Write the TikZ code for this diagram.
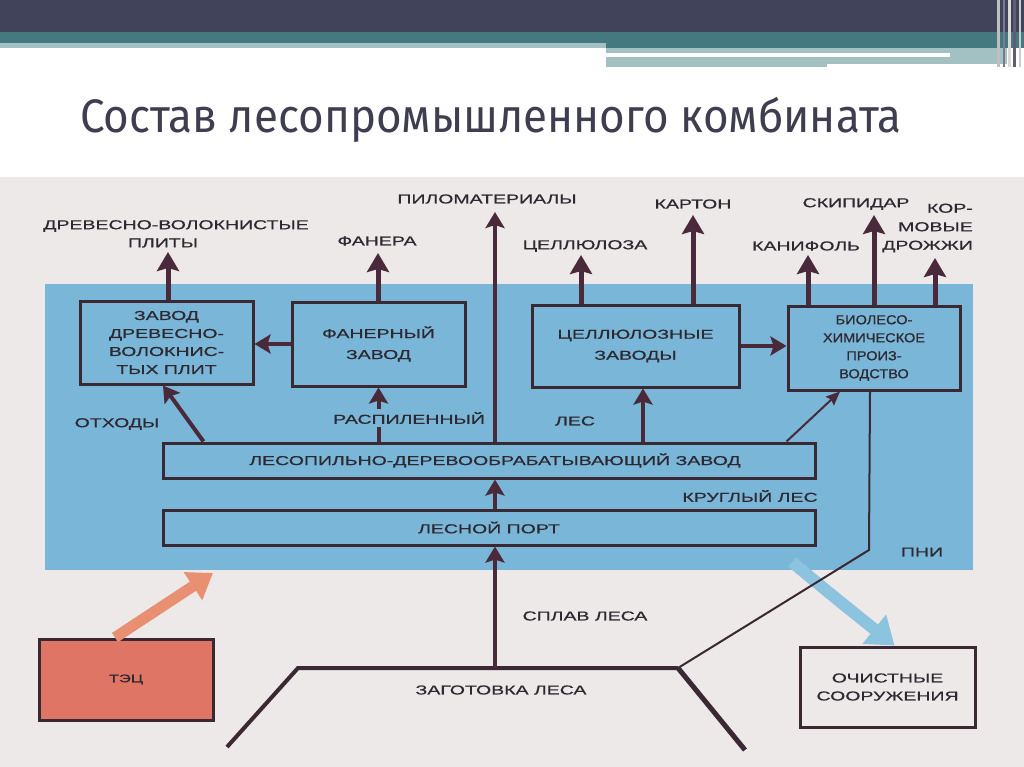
\documentclass[tikz,border=0pt]{standalone}
\usepackage{fontspec}
\setmainfont{Liberation Sans}
\newfontfamily\lblfont[FakeStretch=1.5,FakeBold=0.6]{Liberation Sans}
\newfontfamily\biofont[FakeStretch=1.12,FakeBold=0.6]{Liberation Sans}
\newfontfamily\titlefont{Fira Sans}
\usetikzlibrary{arrows.meta}
\definecolor{hdrdark}{HTML}{41435A}
\definecolor{hdrteal}{HTML}{44797F}
\definecolor{hdrlight}{HTML}{A3C0C2}
\definecolor{paper}{HTML}{ECE9E8}
\definecolor{zone}{HTML}{79B6D8}
\definecolor{ink}{HTML}{3A2833}
\definecolor{arrowc}{HTML}{4A2A3A}
\definecolor{tecfill}{HTML}{DE7565}
\definecolor{tecarrow}{HTML}{EA9072}
\definecolor{flowblue}{HTML}{8CC3DE}
\definecolor{titlec}{HTML}{3E3E50}
\definecolor{txt}{HTML}{2E2830}
\tikzset{
  lbl/.style={font=\lblfont\fontsize{13}{18}\selectfont, text=txt, inner sep=0pt},
  plant/.style={draw=ink, line width=3pt, fill=zone, text=txt, align=center, inner sep=0pt,
    font=\lblfont\fontsize{13}{18}\selectfont},
  bigarrow/.style={draw=arrowc, line width=5pt, -{Stealth[length=19pt,width=22pt,inset=3pt]}},
  midarrow/.style={draw=arrowc, line width=4pt, -{Stealth[length=16pt,width=19pt,inset=3pt]}},
  thinarrow/.style={draw=arrowc, line width=2pt, -{Stealth[length=14pt,width=12pt,inset=2pt]}},
  thinline/.style={draw=ink, line width=2pt},
  forestline/.style={draw=ink, line width=4pt, line join=miter},
}
\begin{document}
\begin{tikzpicture}[x=1pt,y=-1pt]
\useasboundingbox (0,0) rectangle (1024,767);
% slide background
\fill[white] (0,0) rectangle (1024,767);
\fill[hdrdark] (0,0) rectangle (1024,32);
\fill[hdrteal] (0,32) rectangle (1024,43);
\fill[hdrteal] (606,43) rectangle (1024,48.3);
\fill[hdrlight] (0,42.7) rectangle (606,48.3);
\fill[hdrlight] (606,48.3) rectangle (1007,57.3);
\fill[white] (606,53.3) rectangle (950,57.3);
\fill[hdrlight] (606,57.3) rectangle (827,67.3);
\fill[hdrlight] (827,57.3) rectangle (1007,64);
\fill[gray!50] (997,0) rectangle (1000,67);
\fill[hdrdark!70] (1003,0) rectangle (1005,67);
\fill[gray!30] (1008,0) rectangle (1011,67);
\fill[hdrdark!85] (1013,0) rectangle (1016,67);
\fill[gray!40] (1019,0) rectangle (1021,67);
\node[anchor=base west, font=\titlefont\fontsize{47}{50}\selectfont, text=titlec, inner sep=0pt]
  (title) at (80,133) {\scalebox{0.935}[1]{Состав лесопромышленного комбината}};
% scanned page
\fill[paper] (0,177) rectangle (1024,767);
\fill[zone] (45,284) rectangle (973,570);

% coordinates
\coordinate (mainx) at (495,0);
\coordinate (tPlity) at (168,252);
\coordinate (tFanera) at (378,253);
\coordinate (tPilo) at (495,212);
\coordinate (tCell) at (581,255);
\coordinate (tKarton) at (693,215);
\coordinate (tKanif) at (808,255);
\coordinate (tSkip) at (874,215);
\coordinate (tDrozh) at (935,258);
\coordinate (fl) at (227,747);
\coordinate (ftl) at (298,668);
\coordinate (ftr) at (678,668);
\coordinate (fr) at (745,750);
\coordinate (pniBend) at (869,550);
\coordinate (blueStart) at (792,562);
\coordinate (tecTip) at (213,573);

% plants
\node[plant, minimum width=173pt, minimum height=83pt] (dvp) at (166.5,342.5)
  {ЗАВОД\\ДРЕВЕСНО-\\ВОЛОКНИС-\\ТЫХ ПЛИТ};
\node[plant, minimum width=173pt, minimum height=84pt, font=\lblfont\fontsize{13}{21}\selectfont] (fan) at (378.5,344)
  {ФАНЕРНЫЙ\\ЗАВОД};
\node[plant, minimum width=207pt, minimum height=82pt, font=\lblfont\fontsize{13}{21}\selectfont] (cel) at (635.5,346)
  {ЦЕЛЛЮЛОЗНЫЕ\\ЗАВОДЫ};
\node[plant, minimum width=172pt, minimum height=84pt, font=\biofont\fontsize{13}{18}\selectfont] (bio) at (874,348)
  {БИОЛЕСО-\\ХИМИЧЕСКОЕ\\ПРОИЗ-\\ВОДСТВО};
\node[plant, minimum width=652pt, minimum height=35pt] (ldz) at (489,460.5)
  {\hspace*{12pt}ЛЕСОПИЛЬНО-ДЕРЕВООБРАБАТЫВАЮЩИЙ ЗАВОД};
\node[plant, minimum width=652pt, minimum height=35pt] (port) at (489,527.5)
  {ЛЕСНОЙ ПОРТ};
\node[plant, fill=tecfill, minimum width=174pt, minimum height=81pt,
  font=\lblfont\fontsize{11}{13}\selectfont] (tec) at (126,679.5) {ТЭЦ};
\node[plant, fill=none, minimum width=175pt, minimum height=80pt] (och) at (887.5,687)
  {ОЧИСТНЫЕ\\СООРУЖЕНИЯ};

% coloured flows
\draw[tecarrow, line width=11pt, -{Triangle[length=24pt,width=32pt]}]
  ([xshift=-11pt]tec.north) -- (tecTip);
\draw[flowblue, line width=12pt, -{Triangle[length=26pt,width=36pt]}]
  (blueStart) .. controls (828,592) .. ([xshift=7pt]och.north);

% forest logging outline
\draw[forestline] (fl) -- (ftl) -- (ftr);
\draw[forestline, line width=5pt] (ftr) -- (fr);
\draw[thinline] ([xshift=-4pt]bio.south) -- (pniBend) -- (ftr);

% outputs
\draw[bigarrow] (dvp.north -| tPlity) -- (tPlity);
\draw[bigarrow] (fan.north -| tFanera) -- (tFanera);
\draw[midarrow] (ldz.north -| tPilo) -- (tPilo);
\draw[bigarrow] (cel.north -| tCell) -- (tCell);
\draw[bigarrow] (cel.north -| tKarton) -- (tKarton);
\draw[bigarrow] (bio.north -| tKanif) -- (tKanif);
\draw[bigarrow] (bio.north -| tSkip) -- (tSkip);
\draw[bigarrow] (bio.north -| tDrozh) -- (tDrozh);

% internal flows
\draw[midarrow] (fan.west) -- (fan.west -| dvp.east);
\draw[midarrow] (cel.east) -- (cel.east -| bio.west);
\draw[midarrow] ([xshift=42pt]ldz.north west) -- ([xshift=-3.5pt]dvp.south);
\draw[midarrow] (ldz.north -| fan.south) -- (fan.south);
\draw[midarrow] ([xshift=7.5pt]ldz.north -| cel.south) -- ([xshift=7.5pt]cel.south);
\draw[thinarrow] ([xshift=-30pt]ldz.north east) -- ([xshift=-34pt]bio.south);
\draw[midarrow] (port.north -| mainx) -- (ldz.south -| mainx);
\draw[midarrow] (ftl -| mainx) -- (port.south -| mainx);

% labels
\node[lbl] (lDvp1) at (176,226) {ДРЕВЕСНО-ВОЛОКНИСТЫЕ};
\node[lbl] (lDvp2) at (163,243) {ПЛИТЫ};
\node[lbl] (lFan) at (377,241) {ФАНЕРА};
\node[lbl] (lPilo) at (487,199) {ПИЛОМАТЕРИАЛЫ};
\node[lbl] (lCell) at (585,246) {ЦЕЛЛЮЛОЗА};
\node[lbl] (lKarton) at (693,204) {КАРТОН};
\node[lbl] (lKanif) at (806,246) {КАНИФОЛЬ};
\node[lbl] (lSkip) at (856,204) {СКИПИДАР};
\node[lbl, align=right, anchor=east, font=\lblfont\fontsize{13}{18.5}\selectfont] (lDrozh) at (973,228)
  {КОР-\\МОВЫЕ\\ДРОЖЖИ};
\node[lbl] (lOtx) at (117,424) {ОТХОДЫ};
\node[lbl, fill=zone, inner sep=3pt] (lRasp) at (409,418) {РАСПИЛЕННЫЙ};
\node[lbl] (lLes) at (575,421) {ЛЕС};
\node[lbl] (lKrug) at (750,496) {КРУГЛЫЙ ЛЕС};
\node[lbl] (lPni) at (922,552) {ПНИ};
\node[lbl] (lSplav) at (585,616) {СПЛАВ ЛЕСА};
\node[lbl] (lZag) at (501,690) {ЗАГОТОВКА ЛЕСА};
\end{tikzpicture}
\end{document}
